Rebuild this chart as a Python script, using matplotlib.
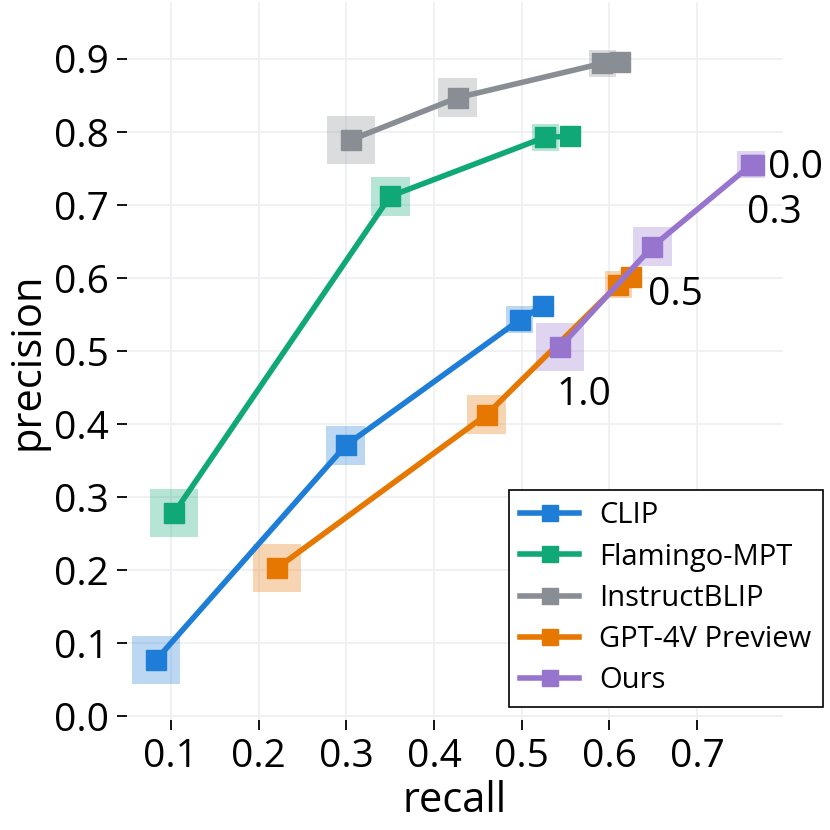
import matplotlib
matplotlib.use("Agg")
import matplotlib.pyplot as plt

plt.rcParams['font.family'] = ['Open Sans', 'DejaVu Sans']

# operating points per method
models = ['CLIP', 'Flamingo-MPT', 'InstructBLIP', 'GPT-4V Preview', 'Ours']
thresholds = [1.0, 0.5, 0.3, 0.0]

recall = {
    'CLIP':           [0.083, 0.2995, 0.498, 0.5245],
    'Flamingo-MPT':   [0.104, 0.350, 0.527, 0.555],
    'InstructBLIP':   [0.305, 0.427, 0.592, 0.612],
    'GPT-4V Preview': [0.221, 0.460, 0.610, 0.6245],
    'Ours':           [0.544, 0.649, 0.7615, 0.7655],
}
precision = {
    'CLIP':           [0.077, 0.371, 0.543, 0.562],
    'Flamingo-MPT':   [0.279, 0.712, 0.793, 0.794],
    'InstructBLIP':   [0.789, 0.847, 0.894, 0.896],
    'GPT-4V Preview': [0.203, 0.413, 0.591, 0.601],
    'Ours':           [0.506, 0.643, 0.755, 0.755],
}

colors = {
    'CLIP': '#1E7DD7',
    'Flamingo-MPT': '#10A877',
    'InstructBLIP': '#888E94',
    'GPT-4V Preview': '#E67700',
    'Ours': '#9775CF',
}
# size of the pale square behind each point (points), by threshold
halo_pt = {1.0: 34.5, 0.5: 28, 0.3: 19.5, 0.0: 0}

fig = plt.figure(figsize=(8.3, 8.3), dpi=100)
ax = fig.add_axes([127/830, 1 - 720/830, (783-127)/830, (720-2)/830])

for m in models:
    c = colors[m]
    sizes = [halo_pt[t] ** 2 for t in thresholds]
    ax.scatter(recall[m], precision[m], s=sizes, marker='s', color=c,
               alpha=0.3, linewidths=0, zorder=2)
    ax.plot(recall[m], precision[m], color=c, lw=4, marker='s',
            markersize=14.4, label=m, zorder=3)

# threshold labels on our curve
for i, t in enumerate(thresholds):
    x, y = recall['Ours'][i], precision['Ours'][i]
    if t == 0.0:
        ax.annotate(f'{t:.1f}', (x, y), xytext=(10, -2), textcoords='offset points',
                    ha='left', va='center', fontsize=28, zorder=5)
    else:
        ax.annotate(f'{t:.1f}', (x, y), xytext=(17, -35), textcoords='offset points',
                    ha='center', va='center', fontsize=28, zorder=5)

ax.set_xlim(0.05, 0.798)
ax.set_ylim(-0.005, 0.978)
ax.set_xticks([0.1, 0.2, 0.3, 0.4, 0.5, 0.6, 0.7])
ax.set_yticks([0.0, 0.1, 0.2, 0.3, 0.4, 0.5, 0.6, 0.7, 0.8, 0.9])
ax.set_xticklabels(['0.1', '0.2', '0.3', '0.4', '0.5', '0.6', '0.7'])
ax.set_yticklabels(['0.0', '0.1', '0.2', '0.3', '0.4', '0.5', '0.6', '0.7', '0.8', '0.9'])
ax.tick_params(length=7, width=1.3, color='black', labelsize=28, pad=6)
for s in ax.spines.values():
    s.set_visible(False)
ax.grid(True, color='#EFF0F3', lw=1.3, zorder=0)
ax.set_axisbelow(True)

ax.set_xlabel('recall', fontsize=30, labelpad=3)
ax.set_ylabel('precision', fontsize=30, labelpad=4)

leg = ax.legend(loc='lower right', bbox_to_anchor=(823/830, 1 - 707/830),
                bbox_transform=fig.transFigure, fontsize=21, fancybox=False,
                framealpha=1, edgecolor='black', markerscale=0.83,
                labelspacing=0.42, handlelength=2.0, handletextpad=0.7,
                borderaxespad=0)
leg.get_frame().set_linewidth(1.2)
leg.set_zorder(10)

fig.savefig('out.png', dpi=100)
